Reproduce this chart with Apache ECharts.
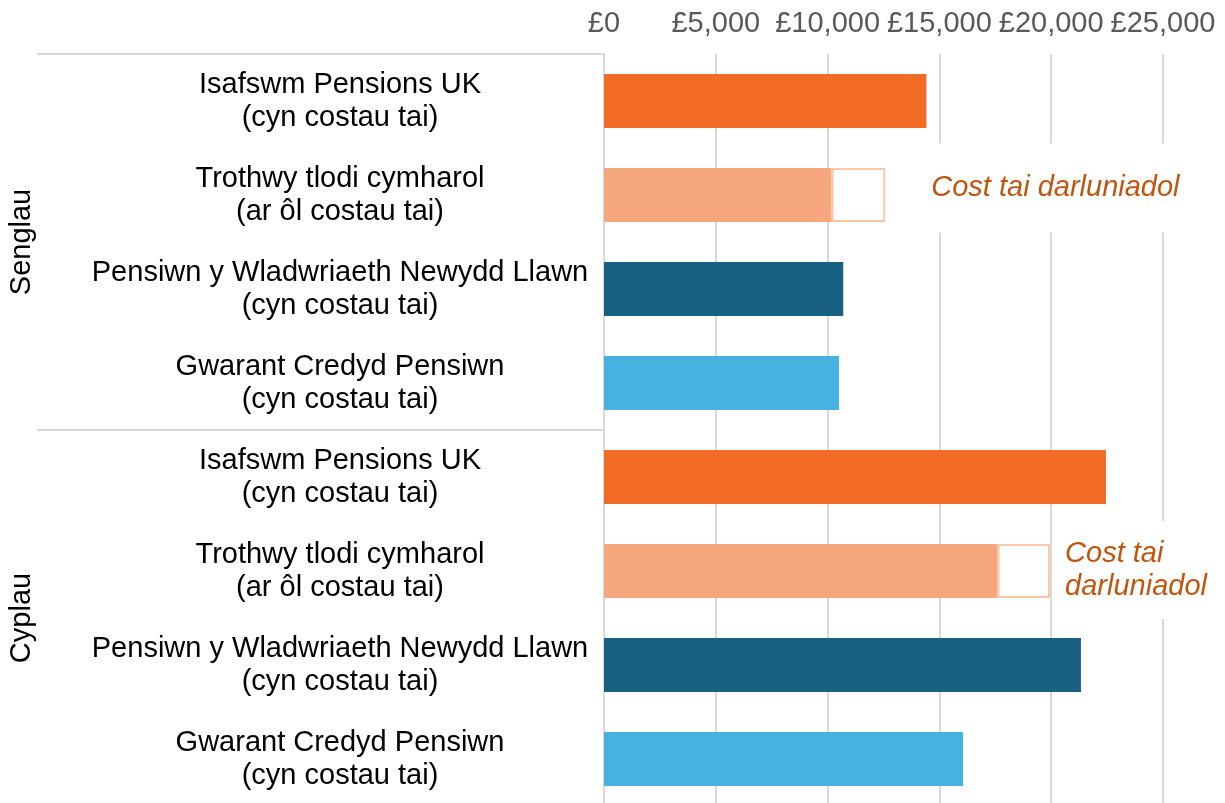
<!DOCTYPE html>
<html>
<head>
<meta charset="utf-8">
<script src="https://cdn.jsdelivr.net/npm/echarts@6/dist/echarts.min.js"></script>
<style>
  html, body { margin: 0; padding: 0; background: #fff; overflow: hidden; }
  /* board is a bit taller than the window: the original is cut at the bottom */
  #board { width: 1225px; height: 812px; }
</style>
</head>
<body>
<div id="board"></div>
<script>
// categories (top to bottom)
const categories = [
  "Isafswm Pensions UK\n(cyn costau tai)",
  "Trothwy tlodi cymharol\n(ar ôl costau tai)",
  "Pensiwn y Wladwriaeth Newydd Llawn\n(cyn costau tai)",
  "Gwarant Credyd Pensiwn\n(cyn costau tai)",
  "Isafswm Pensions UK\n(cyn costau tai)",
  "Trothwy tlodi cymharol\n(ar ôl costau tai)",
  "Pensiwn y Wladwriaeth Newydd Llawn\n(cyn costau tai)",
  "Gwarant Credyd Pensiwn\n(cyn costau tai)"
];
const groups = ["Senglau", "Cyplau"];

// income values (£ per year)
const incomeValues = [14420, 10180, 10700, 10510, 22450, 17600, 21330, 16060];
// illustrative housing cost added on top of the poverty threshold bars
const housingValues = [0, 2400, 0, 0, 0, 2350, 0, 0];
const housingNote = ["", "Cost tai darluniadol", "", "", "", "Cost tai\ndarluniadol", "", ""];

// x axis
const axisMin = 0;
const axisMax = 25000;
const axisStep = 5000;

// colours per bar
const barColors = ["#F26B25", "#F7A77D", "#186183", "#47B1E0",
                   "#F26B25", "#F7A77D", "#186183", "#47B1E0"];

const FONT = "Liberation Sans, Arial, sans-serif";

const myChart = echarts.init(document.getElementById("board"));

const option = {
  animation: false,
  backgroundColor: "#fff",
  grid: { left: 604, top: 54, width: 559, height: 752 },
  xAxis: {
    type: "value",
    position: "top",
    min: axisMin,
    max: axisMax,
    interval: axisStep,
    axisLine: { show: false },
    axisTick: { show: false },
    splitLine: { lineStyle: { color: "#D9D9D9", width: 2 } },
    axisLabel: {
      margin: 16,
      fontFamily: FONT,
      fontSize: 29,
      color: "#595959",
      formatter: v => "£" + v.toLocaleString("en-GB")
    }
  },
  yAxis: [
    {
      type: "category",
      inverse: true,
      data: categories,
      axisLine: { lineStyle: { color: "#D9D9D9", width: 2 } },
      axisTick: { show: false },
      axisLabel: {
        margin: 264,
        align: "center",
        fontFamily: FONT,
        fontSize: 29,
        lineHeight: 33,
        color: "#000"
      }
    },
    {
      // outer group level: Senglau / Cyplau with separator lines
      type: "category",
      inverse: true,
      position: "left",
      data: groups,
      axisLine: { show: false },
      axisTick: { show: true, length: 567, lineStyle: { color: "#D9D9D9", width: 2 } },
      axisLabel: {
        rotate: 90,
        margin: 568,
        fontFamily: FONT,
        fontSize: 29,
        color: "#000"
      }
    }
  ],
  series: [
    {
      name: "income",
      type: "bar",
      stack: "total",
      barWidth: 54,
      data: incomeValues.map((v, i) => ({ value: v, itemStyle: { color: barColors[i] } }))
    },
    {
      name: "housing",
      type: "bar",
      stack: "total",
      barWidth: 54,
      itemStyle: { color: "#fff", borderColor: "#FBC7AA", borderWidth: 2 },
      data: housingValues.map((v, i) => {
        if (!v) return { value: v, itemStyle: { borderWidth: 0, color: "transparent" } };
        const single = i < 4;
        return {
          value: v,
          label: {
            show: true,
            position: "right",
            distance: single ? 42 : 11,
            formatter: housingNote[i],
            fontFamily: FONT,
            fontStyle: "italic",
            fontSize: 29,
            lineHeight: 33,
            color: "#C0550F",
            backgroundColor: "#fff",
            padding: single ? [4, 4, 52, 4] : [2, 4, 30, 4],
            offset: single ? [0, -7] : [0, -1]
          }
        };
      })
    }
  ]
};

myChart.setOption(option);
</script>
</body>
</html>
